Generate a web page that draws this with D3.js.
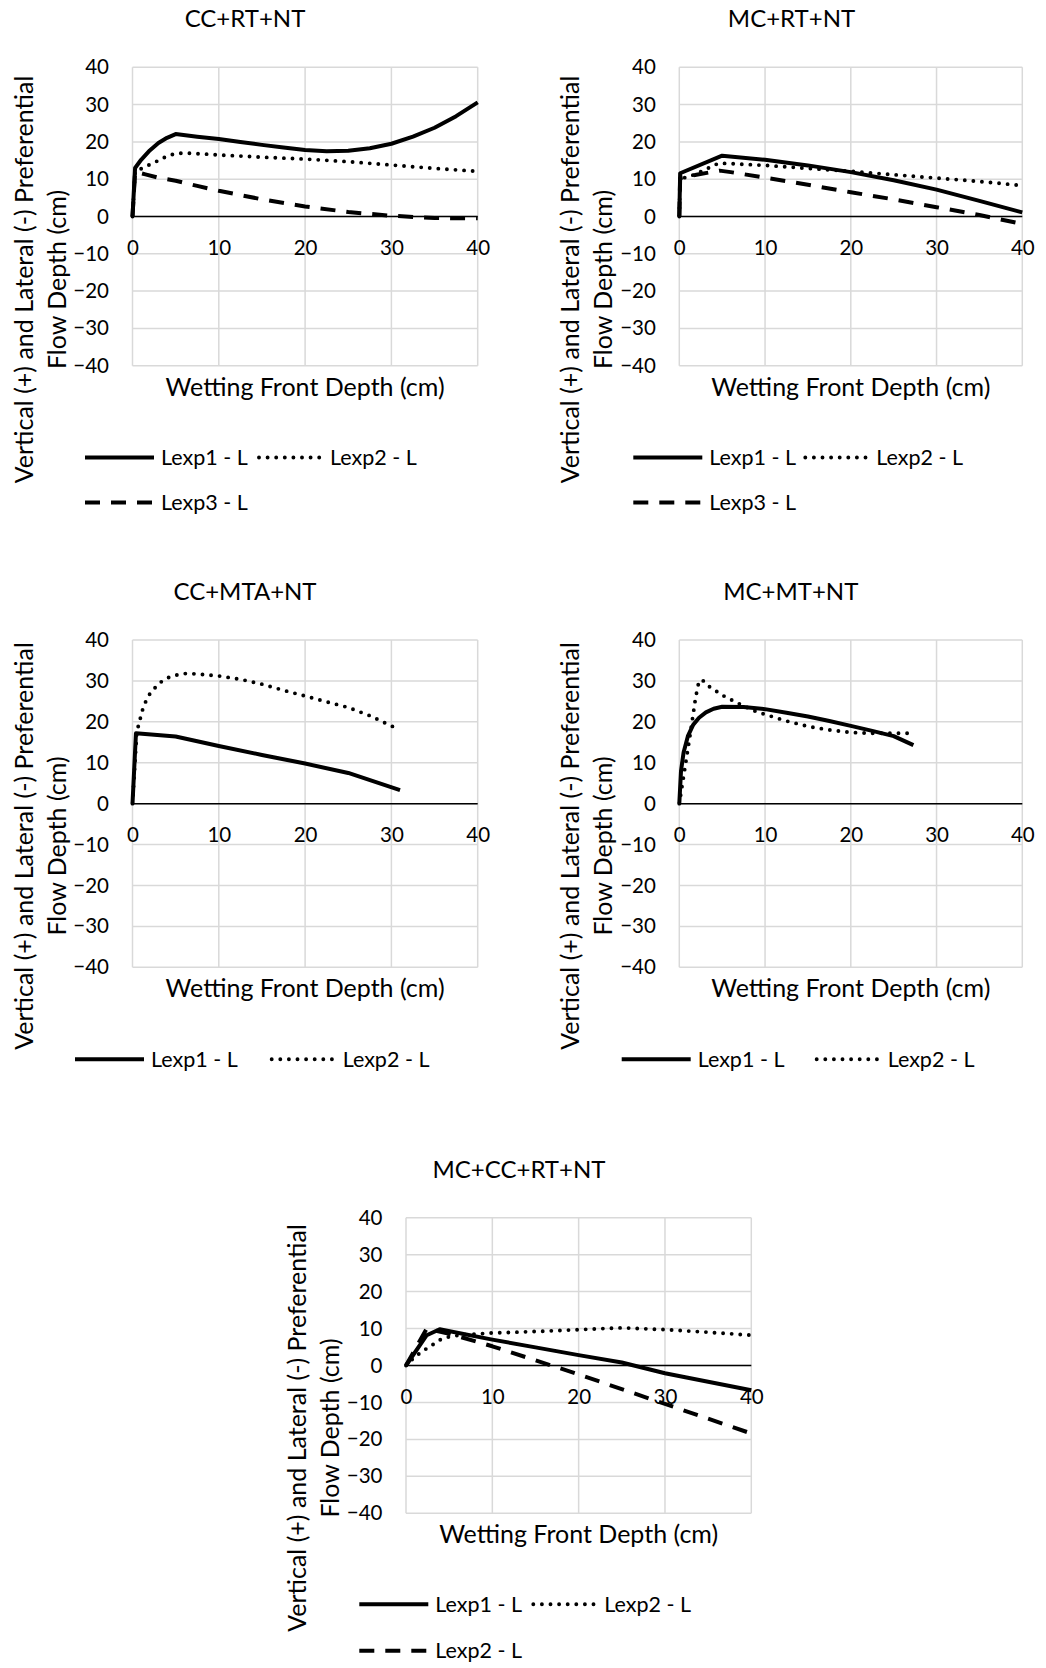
<!DOCTYPE html>
<html>
<head>
<meta charset="utf-8">
<script src="https://cdn.jsdelivr.net/npm/d3@7"></script>
<style>
  html, body { margin: 0; padding: 0; background: #fff; }
  svg { display: block; }
  text { font-family: Lato, "Open Sans", sans-serif; fill: #000; }
</style>
</head>
<body>
<svg id="chart" width="1046" height="1668"></svg>
<script>
// ---------------- DATA ----------------
const panelTitles = ["CC+RT+NT", "MC+RT+NT", "CC+MTA+NT", "MC+MT+NT", "MC+CC+RT+NT"];
const xTickValues = [0, 10, 20, 30, 40];
const yTickValues = [-40, -30, -20, -10, 0, 10, 20, 30, 40];
const xAxisTitle = "Wetting Front Depth (cm)";
const yAxisTitleLines = ["Vertical (+) and Lateral (-) Preferential", "Flow Depth (cm)"];

const legend3 = ["Lexp1 - L", "Lexp2 - L", "Lexp3 - L"];
const legend2 = ["Lexp1 - L", "Lexp2 - L"];
const legend5 = ["Lexp1 - L", "Lexp2 - L", "Lexp2 - L"];

// Panel 1: CC+RT+NT
const p1Lexp1X = [0, 0.3, 1, 2, 3, 4, 5, 7.5, 10, 12.5, 15, 17.5, 20, 22.5, 25, 27.5, 30, 32.5, 35, 37.5, 40];
const p1Lexp1Y = [0, 13, 15.2, 17.7, 19.7, 21.1, 22.1, 21.4, 20.8, 20, 19.2, 18.5, 17.8, 17.5, 17.6, 18.3, 19.5, 21.4, 23.8, 26.9, 30.6];
const p1Lexp2X = [0, 0.3, 1, 2, 3, 4, 5, 6, 8, 10, 15, 20, 25, 30, 35, 40];
const p1Lexp2Y = [0, 12, 12.8, 13.9, 15, 16.2, 16.9, 17, 16.8, 16.5, 15.9, 15.4, 14.7, 13.8, 12.9, 12.1];
const p1Lexp3X = [0, 0.3, 1.5, 3, 5, 7.5, 10, 15, 20, 25, 30, 35, 40];
const p1Lexp3Y = [0, 12, 11.3, 10.4, 9.6, 8.2, 6.9, 4.6, 2.7, 1.2, 0.2, -0.4, -0.5];

// Panel 2: MC+RT+NT
const p2Lexp1X = [0, 0.1, 5, 10, 15, 20, 25, 30, 35, 40];
const p2Lexp1Y = [0, 11.6, 16.3, 15.2, 13.7, 11.9, 9.7, 7.2, 4.2, 1.1];
const p2Lexp2X = [0, 0.1, 1, 2.5, 4.6, 7.5, 10, 15, 20, 25, 30, 35, 40];
const p2Lexp2Y = [0, 10.3, 10.5, 12, 14.3, 14, 13.7, 12.9, 12.1, 11.2, 10.3, 9.4, 8.3];
const p2Lexp3X = [0, 0.1, 2, 4.7, 6, 10, 15, 20, 25, 30, 35, 40];
const p2Lexp3Y = [0, 10.3, 11.2, 12.3, 11.9, 10.4, 8.5, 6.5, 4.6, 2.5, 0.4, -2];

// Panel 3: CC+MTA+NT
const p3Lexp1X = [0, 0.4, 5, 10, 15, 20, 25, 31];
const p3Lexp1Y = [0, 17.2, 16.4, 14.1, 11.9, 9.8, 7.5, 3.3];
const p3Lexp2X = [0, 0.5, 0.8, 1.3, 2, 3, 4, 5, 6, 7.5, 10, 12.5, 15, 17.5, 20, 22.5, 25, 27.5, 30.4];
const p3Lexp2Y = [0, 17.5, 20, 24, 26.8, 29.3, 30.7, 31.4, 31.8, 31.7, 31.2, 30.4, 29.2, 27.7, 26.3, 24.9, 23.5, 21.5, 18.6];

// Panel 4: MC+MT+NT
const p4Lexp1X = [0, 0.2, 0.5, 1, 1.6, 2.3, 3.1, 4, 5, 7.5, 10, 12.5, 15, 17.5, 20, 22.5, 25, 27.3];
const p4Lexp1Y = [0, 8, 12.5, 16.5, 19.2, 21, 22.3, 23.2, 23.7, 23.6, 23.1, 22.2, 21.3, 20.2, 19, 17.8, 16.5, 14.3];
const p4Lexp2X = [0, 0.3, 0.6, 0.9, 1.2, 1.6, 1.9, 2.3, 2.7, 3.5, 5.2, 6.9, 8.7, 10, 12.5, 15, 17.5, 20, 22.5, 25, 27.3];
const p4Lexp2Y = [0, 4, 8, 12, 16, 21.6, 25.9, 30, 30.2, 28.6, 26.3, 24.5, 22.7, 21.8, 20.2, 18.9, 18, 17.4, 17.2, 17.2, 17.2];

// Panel 5: MC+CC+RT+NT
const p5Lexp1X = [0, 2.4, 3.9, 10, 15, 20, 25, 30, 35, 40];
const p5Lexp1Y = [0, 8.2, 9.8, 7, 4.9, 2.8, 0.8, -2.1, -4.4, -6.7];
const p5Lexp2X = [0, 1, 2, 3, 4, 5, 6.5, 10, 15, 20, 25, 30, 35, 40];
const p5Lexp2Y = [0, 2.3, 4, 5.5, 7, 7.8, 8.3, 8.8, 9.2, 9.7, 10.2, 9.7, 9, 8.2];
const p5Lexp3X = [0, 2.4, 5, 10, 20, 30, 40];
const p5Lexp3Y = [0, 10, 8.6, 5.2, -2.4, -10.4, -18.4];

// ---------------- LAYOUT / STYLE ----------------
const styles = {
  solid:  { dash: null,    width: 4,   cap: "butt" },
  dotted: { dash: "0 8.6", width: 3.9, cap: "round" },
  dashed: { dash: "15 11", width: 4,   cap: "butt" }
};

const panels = [
  { title: panelTitles[0], left: 132.5, top: 67.3, w: 345.2, h: 298.4, titleX: 245, yTitleCy: 279.5,
    series: [[p1Lexp1X, p1Lexp1Y, "solid"], [p1Lexp2X, p1Lexp2Y, "dotted"], [p1Lexp3X, p1Lexp3Y, "dashed"]],
    legend: { labels: legend3, x: 85, col2: 169, rows: [465, 510] } },
  { title: panelTitles[1], left: 679.3, top: 67.3, w: 343, h: 298.4, titleX: 791.5, yTitleCy: 279.5,
    series: [[p2Lexp1X, p2Lexp1Y, "solid"], [p2Lexp2X, p2Lexp2Y, "dotted"], [p2Lexp3X, p2Lexp3Y, "dashed"]],
    legend: { labels: legend3, x: 633.3, col2: 167, rows: [465, 510] } },
  { title: panelTitles[2], left: 132.5, top: 640, w: 345.2, h: 327.3, titleX: 245, yTitleCy: 846,
    series: [[p3Lexp1X, p3Lexp1Y, "solid"], [p3Lexp2X, p3Lexp2Y, "dotted"]],
    legend: { labels: legend2, x: 75, col2: 191.7, rows: [1066.7] } },
  { title: panelTitles[3], left: 679.3, top: 640, w: 343, h: 327.3, titleX: 790.8, yTitleCy: 846,
    series: [[p4Lexp1X, p4Lexp1Y, "solid"], [p4Lexp2X, p4Lexp2Y, "dotted"]],
    legend: { labels: legend2, x: 621.7, col2: 190, rows: [1066.7] } },
  { title: panelTitles[4], left: 406, top: 1217.7, w: 345.3, h: 295.6, titleX: 519, yTitleCy: 1428,
    series: [[p5Lexp1X, p5Lexp1Y, "solid"], [p5Lexp2X, p5Lexp2Y, "dotted"], [p5Lexp3X, p5Lexp3Y, "dashed"]],
    legend: { labels: legend5, x: 359.3, col2: 169, rows: [1611.7, 1658.3] } }
];

const FS_TITLE = 24, FS_AXIS = 25, FS_TICK = 20.5, FS_LEG = 21.5;
const gridColor = "#d9d9d9";

const svg = d3.select("#chart");

function applyStroke(sel, kind) {
  const s = styles[kind];
  sel.attr("fill", "none").attr("stroke", "#000")
     .attr("stroke-width", s.width).attr("stroke-linecap", s.cap)
     .attr("stroke-linejoin", "round");
  if (s.dash) sel.attr("stroke-dasharray", s.dash);
}

panels.forEach(p => {
  const g = svg.append("g");
  const x = d3.scaleLinear().domain([0, 40]).range([p.left, p.left + p.w]);
  const y = d3.scaleLinear().domain([-40, 40]).range([p.top + p.h, p.top]);

  // gridlines
  g.append("g").selectAll("line").data(yTickValues).join("line")
    .attr("x1", x(0)).attr("x2", x(40))
    .attr("y1", d => y(d)).attr("y2", d => y(d))
    .attr("stroke", gridColor).attr("stroke-width", 1.5);
  g.append("g").selectAll("line").data(xTickValues).join("line")
    .attr("x1", d => x(d)).attr("x2", d => x(d))
    .attr("y1", y(-40)).attr("y2", y(40))
    .attr("stroke", gridColor).attr("stroke-width", 1.5);

  // zero line
  g.append("line").attr("x1", x(0)).attr("x2", x(40))
    .attr("y1", y(0)).attr("y2", y(0)).attr("stroke", "#000").attr("stroke-width", 1.5);

  // axes (labels only)
  const yAxis = d3.axisLeft(y).tickValues(yTickValues).tickSize(0).tickPadding(23.5);
  const ya = g.append("g").attr("transform", `translate(${x(0)},0)`).call(yAxis);
  ya.select(".domain").remove();
  ya.selectAll("text").attr("font-size", FS_TICK).attr("font-family", "Lato").attr("fill", "#000");

  const xAxis = d3.axisBottom(x).tickValues(xTickValues).tickSize(0).tickPadding(24);
  const xa = g.append("g").attr("transform", `translate(0,${y(0)})`).call(xAxis);
  xa.select(".domain").remove();
  xa.selectAll("text").attr("font-size", FS_TICK).attr("font-family", "Lato").attr("fill", "#000");

  // series
  const line = d3.line().x(d => x(d[0])).y(d => y(d[1])).curve(d3.curveLinear);
  p.series.forEach(([xs, ys, kind]) => {
    const pts = xs.map((v, i) => [v, ys[i]]);
    applyStroke(g.append("path").attr("d", line(pts)), kind);
  });

  // title
  g.append("text").attr("x", p.titleX).attr("y", p.top - 40)
    .attr("text-anchor", "middle").attr("font-size", FS_TITLE).text(p.title);

  // x axis title
  g.append("text").attr("x", p.left + p.w / 2).attr("y", p.top + p.h + 30)
    .attr("text-anchor", "middle").attr("font-size", FS_AXIS).text(xAxisTitle);

  // y axis title (two lines)
  const capHalf = FS_AXIS * 0.36;
  [[yAxisTitleLines[0], p.left - 109], [yAxisTitleLines[1], p.left - 76]].forEach(([t, cx]) => {
    g.append("text").attr("transform", `translate(${cx + capHalf},${p.yTitleCy}) rotate(-90)`)
      .attr("text-anchor", "middle").attr("font-size", FS_AXIS).text(t);
  });

  // legend
  const kinds = ["solid", "dotted", "dashed"];
  p.legend.labels.forEach((lab, i) => {
    const row = Math.floor(i / 2), col = i % 2;
    const sx = p.legend.x + col * p.legend.col2;
    const by = p.legend.rows[row];
    const ly = by - 7.5;
    const kind = kinds[i];
    // dotted legend sample is inset like the reference
    const x1 = kind === "dotted" ? sx + 5 : sx;
    const x2 = kind === "dotted" ? sx + 66 : sx + 69;
    applyStroke(g.append("line").attr("x1", x1).attr("x2", x2).attr("y1", ly).attr("y2", ly), kind);
    g.append("text").attr("x", sx + 76).attr("y", by).attr("font-size", FS_LEG).text(lab);
  });
});
</script>
</body>
</html>
